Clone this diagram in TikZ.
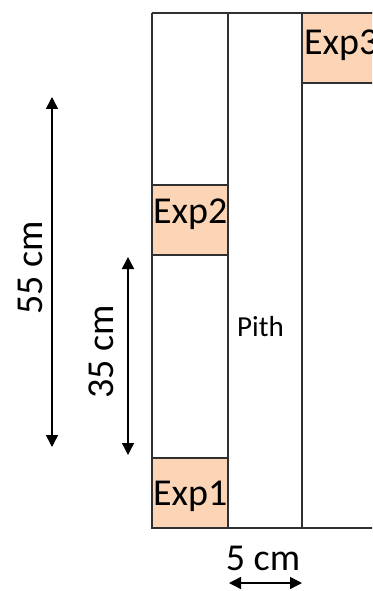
\documentclass[tikz,border=0pt]{standalone}
\usepackage{fontspec}
\setmainfont{Carlito}
\usetikzlibrary{arrows.meta}
\definecolor{peach}{HTML}{FBD5B5}
\definecolor{edge}{HTML}{303030}
\begin{document}
\begin{tikzpicture}[x=1pt,y=-1pt,
  frameline/.style={draw=edge,line width=1.3pt},
  expbox/.style={draw=edge,line width=1.3pt,fill=peach},
  bigtxt/.style={font=\fontsize{38}{38}\selectfont,inner sep=0pt},
  smalltxt/.style={font=\fontsize{29}{29}\selectfont,inner sep=0pt},
  dimarrow/.style={line width=1.4pt,{Triangle[length=12pt,width=12pt]}-{Triangle[length=12pt,width=12pt]}}]
\useasboundingbox (0,0) rectangle (372,591);
\fill[white] (0,0) rectangle (372,591);
\begin{scope}
\clip (0,0) rectangle (372,591);
% experiment boxes
\path[expbox] (152,458) rectangle (228,528);
\path[expbox] (152,185) rectangle (228,255);
\path[expbox] (302,13) rectangle (390,83);
% frame
\draw[frameline] (152,13) -- (390,13);
\draw[frameline] (152,528) -- (390,528);
\draw[frameline] (152,13) -- (152,528);
\draw[frameline] (228,13) -- (228,528);
\draw[frameline] (302,13) -- (302,528);
\end{scope}
% labels
\node[bigtxt,anchor=base west] (exp1) at (153,505) {Exp1};
\node[bigtxt,anchor=base west] (exp2) at (153,223) {Exp2};
\node[bigtxt,anchor=base west] (exp3) at (304,55) {Exp3};
\node[smalltxt,anchor=base west] (pith) at (237,336) {Pith};
% dimensions
\coordinate (a55t) at (52,97);
\coordinate (a55b) at (52,447);
\coordinate (a35t) at (128,257);
\coordinate (a35b) at (128,455);
\coordinate (a5l) at (229,583);
\coordinate (a5r) at (302,583);
\draw[dimarrow] (a55t) -- (a55b);
\draw[dimarrow] (a35t) -- (a35b);
\draw[dimarrow] (a5l) -- (a5r);
\node[bigtxt,rotate=90,anchor=base] (l55) at (42,268) {55 cm};
\node[bigtxt,rotate=90,anchor=base] (l35) at (113,352) {35 cm};
\node[bigtxt,anchor=base] (l5) at (263,570) {5 cm};
\end{tikzpicture}
\end{document}
